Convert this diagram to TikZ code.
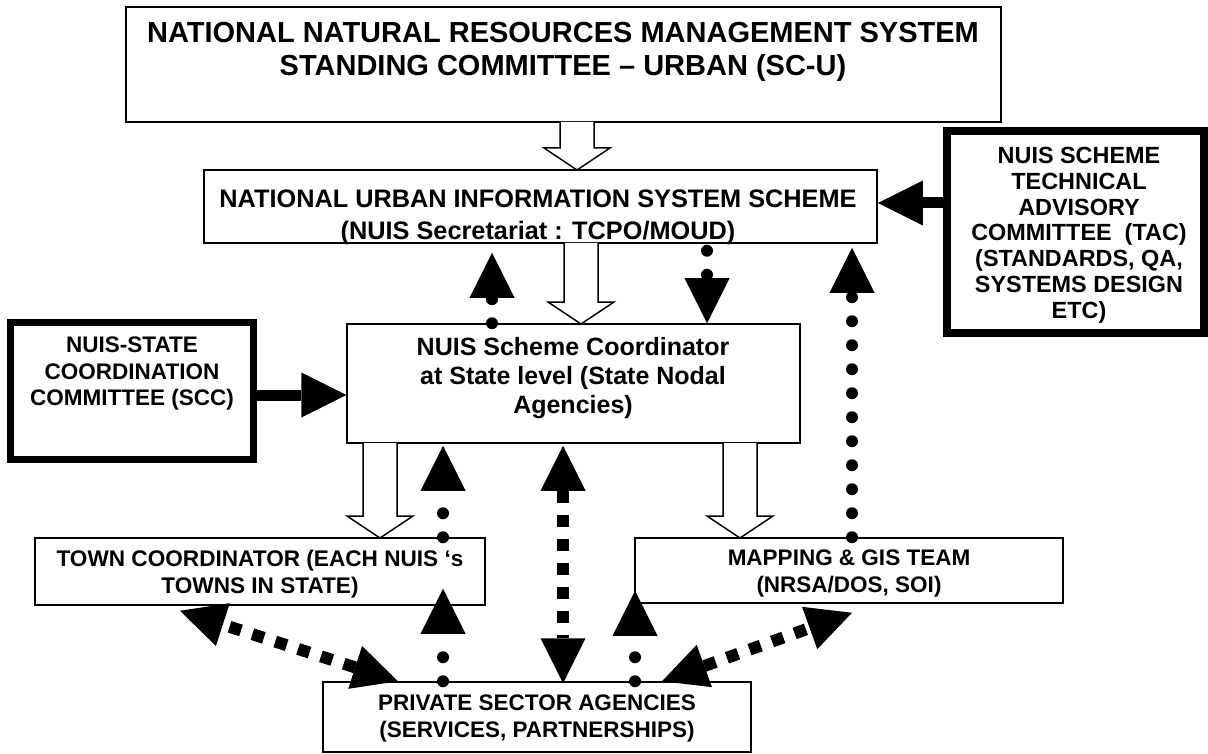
\documentclass[tikz,border=0pt]{standalone}
\usepackage{fontspec}
\setmainfont{Liberation Sans}
\usetikzlibrary{arrows.meta,calc}
\newcommand\hollowdown[3]{%
  \draw[hollow] ({#1-17},#2) -- ({#1-17},{#3-22}) -- ({#1-33},{#3-22}) -- (#1,#3)
    -- ({#1+33},{#3-22}) -- ({#1+17},{#3-22}) -- ({#1+17},#2);}
\begin{document}
\begin{tikzpicture}[x=1pt,y=-1pt,
  box/.style={draw, line width=1.5pt, inner sep=0pt, rectangle},
  thickbox/.style={draw, line width=#1, inner sep=0pt, rectangle},
  txt/.style 2 args={anchor=north, inner sep=0pt, align=center,
    font=\fontsize{#1}{#2}\selectfont\bfseries},
  hollow/.style={draw, line width=1.5pt, fill=white, line join=miter},
  >={Triangle[length=45pt,width=45pt,line width=0pt]},
  blk/.style={line width=11pt, ->},
  dotarr/.style={line width=12pt, line cap=round, dash pattern=on 0pt off 24pt, ->},
  dasharr/.style={line width=12pt, dash pattern=on 12pt off 12pt, <->}
]
\fill[white] (0,0) rectangle (1208,754);
\useasboundingbox (0,0) rectangle (1208,754);

% texts
\node[txt={29pt}{33pt}] (toptxt) at (563,22)
  {NATIONAL NATURAL RESOURCES MANAGEMENT SYSTEM\\STANDING COMMITTEE – URBAN (SC-U)};
\node[txt={25.3pt}{32pt}] (nuistxt) at (538,190)
  {NATIONAL URBAN INFORMATION SYSTEM SCHEME\\(NUIS Secretariat : TCPO/MOUD)};
\node[txt={23.4pt}{25.8pt}] (tactxt) at (1079,147)
  {NUIS SCHEME\\TECHNICAL\\ADVISORY\\COMMITTEE\ \ (TAC)\\(STANDARDS, QA,\\SYSTEMS DESIGN\\ETC)};
\node[txt={22.5pt}{26.5pt}] (scctxt) at (132,337)
  {NUIS-STATE\\COORDINATION\\COMMITTEE (SCC)};
\node[txt={25pt}{29pt}] (coordtxt) at (573,337)
  {NUIS Scheme Coordinator\\at State level (State Nodal\\Agencies)};
\node[txt={22.6pt}{27pt}] (towntxt) at (260,550)
  {TOWN COORDINATOR (EACH NUIS ‘s\\TOWNS IN STATE)};
\node[txt={22.5pt}{27pt}] (maptxt) at (849,550)
  {MAPPING \& GIS TEAM\\(NRSA/DOS, SOI)};
\node[txt={22.5pt}{27pt}] (privtxt) at (537,695)
  {PRIVATE SECTOR AGENCIES\\(SERVICES, PARTNERSHIPS)};

% boxes
\node[box, minimum width=875pt, minimum height=115pt] (top) at (563.5,64.5) {};
\node[box, minimum width=673pt, minimum height=73pt] (nuis) at (540.5,206.5) {};
\node[thickbox=8pt, minimum width=257pt, minimum height=202pt] (tac) at (1075.5,232) {};
\node[thickbox=7pt, minimum width=243pt, minimum height=137pt] (scc) at (132,391) {};
\node[box, minimum width=453pt, minimum height=119pt] (coord) at (573.5,383.5) {};
\node[box, minimum width=450pt, minimum height=67pt] (town) at (260,571.5) {};
\node[box, minimum width=428pt, minimum height=65pt] (map) at (849,570.5) {};
\node[box, minimum width=428pt, minimum height=70pt] (priv) at (537,717) {};

% helper coordinates
\coordinate (x180) at (180,0);
\coordinate (x398) at (398,0);
\coordinate (x443) at (443,0);
\coordinate (x492) at (492,0);
\coordinate (x563) at (563,0);
\coordinate (x635) at (635,0);
\coordinate (x662) at (662,0);
\coordinate (x707) at (707,0);
\coordinate (x852) at (852,0);
\coordinate (y203) at (0,203);
\coordinate (y395) at (0,395);

% hollow block arrows
\hollowdown{577}{122}{170}
\hollowdown{581}{243}{324}
\hollowdown{380}{443}{538}
\hollowdown{740}{443}{538}

% solid arrows
\draw[blk] (tac.west |- y203) -- (nuis.east |- y203);
\draw[blk] (scc.east |- y395) -- (coord.west |- y395);

% dotted arrows
\draw[dotarr] (coord.north -| x492) -- ($(nuis.south -| x492)+(0,9)$);
\draw[dotarr] ($(nuis.south -| x707)+(0,7)$) -- (coord.north -| x707);
\draw[dotarr] (map.north -| x852) -- ($(nuis.south -| x852)+(0,4)$);
\draw[dotarr] (town.north -| x443) -- ($(coord.south -| x443)+(0,2)$);
\draw[dotarr] (priv.north -| x443) -- ($(town.south -| x443)+(0,-17)$);
\draw[dotarr] (priv.north -| x635) -- ($(map.south -| x635)+(0,-13)$);

% dashed double arrows
\draw[dasharr] ($(coord.south -| x563)+(0,2)$) -- ($(priv.north -| x563)+(0,2)$);
\draw[dasharr] (priv.north -| x398) -- ($(town.south -| x180)+(0,5)$);
\draw[dasharr] (priv.north -| x662) -- ($(map.south -| x852)+(0,9)$);
\end{tikzpicture}
\end{document}
